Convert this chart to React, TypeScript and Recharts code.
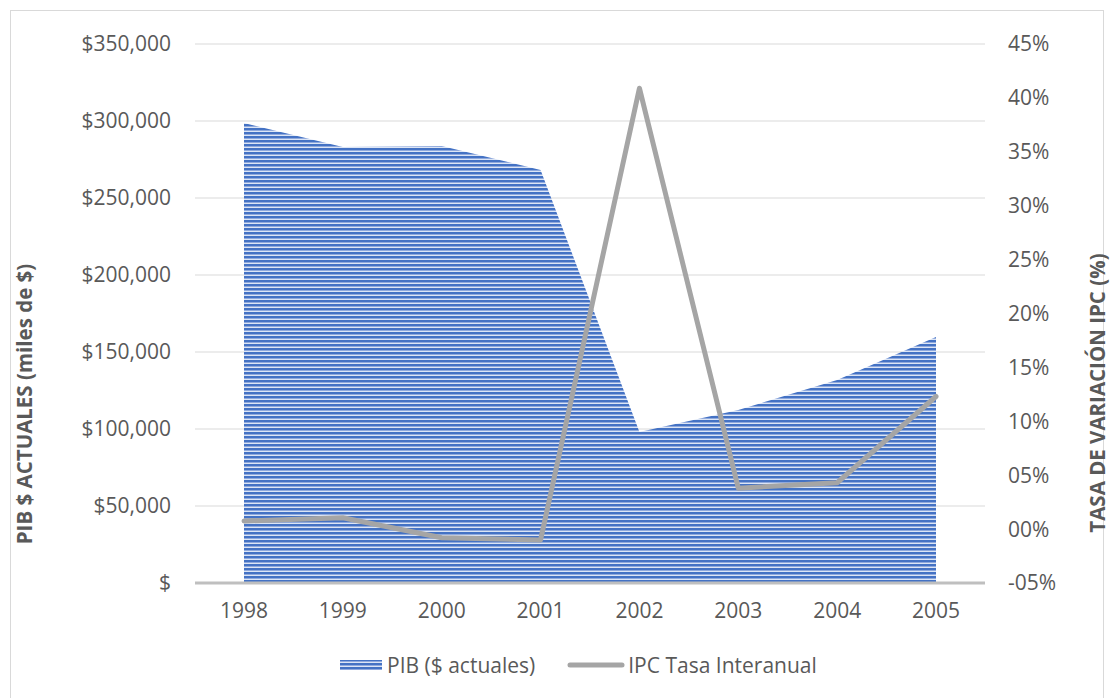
import {
  ComposedChart,
  Area,
  Line,
  XAxis,
  YAxis,
  CartesianGrid,
  Label,
} from "recharts";

const YEARS = ["1998", "1999", "2000", "2001", "2002", "2003", "2004", "2005"];
// PIB en miles de $ corrientes
const PIB = [298700, 283100, 283800, 268200, 98000, 112300, 131800, 159700];
// IPC, tasa interanual en %
const IPC = [0.75, 1.05, -0.8, -1.0, 40.9, 3.8, 4.3, 12.3];

const PIB_TICKS = [0, 50000, 100000, 150000, 200000, 250000, 300000, 350000];
const IPC_TICKS = [-5, 0, 5, 10, 15, 20, 25, 30, 35, 40, 45];

const FONT = "'Open Sans', 'Noto Sans', sans-serif";
const TEXT = "#595959";
const BLUE = "#4472C4";
const GREY = "#A5A5A5";

const data = YEARS.map((year, i) => ({ year, pib: PIB[i], ipc: IPC[i] }));

const fmtMoney = (v: number) => (v === 0 ? "$" : `$${v.toLocaleString("en-US")}`);
const fmtPct = (v: number) =>
  `${v < 0 ? "-" : ""}${String(Math.abs(v)).padStart(2, "0")}%`;

function StripeDefs({ id }: { id: string }) {
  return (
    <defs>
      <pattern id={id} patternUnits="userSpaceOnUse" width={8} height={4}>
        <rect x={0} y={0} width={8} height={4} fill={BLUE} />
        <rect x={0} y={2} width={8} height={1} fill="#8fa9dd" />
        <rect x={0} y={3} width={8} height={1} fill="#dce5f5" />
      </pattern>
    </defs>
  );
}

function AxisTitle({ x, y, text }: { x: number; y: number; text: string }) {
  return (
    <text
      x={x}
      y={y}
      transform={`rotate(-90, ${x}, ${y})`}
      textAnchor="middle"
      dominantBaseline="central"
      fill={TEXT}
      fontFamily={FONT}
      fontSize={20.5}
      fontWeight={700}
    >
      {text}
    </text>
  );
}

export default function App() {
  return (
    <div
      style={{
        position: "absolute",
        left: 0,
        top: 0,
        width: 1114,
        height: 698,
        background: "#fff",
        overflow: "hidden",
        fontFamily: FONT,
      }}
    >
      <div
        style={{
          position: "absolute",
          left: 10,
          top: 10,
          width: 1094,
          height: 700,
          border: "1px solid #d9d9d9",
          boxSizing: "border-box",
        }}
      />
      <div style={{ position: "absolute", left: 0, top: 0 }}>
        <ComposedChart
          width={1114}
          height={698}
          data={data}
          margin={{ top: 44, right: 0, bottom: 75, left: 0 }}
        >
          <StripeDefs id="pibStripes" />
          <CartesianGrid
            yAxisId="pib"
            vertical={false}
            stroke="#d9d9d9"
            strokeWidth={1}
          />
          <XAxis
            dataKey="year"
            scale="point"
            padding={{ left: 49, right: 49 }}
            height={40}
            tickSize={0}
            tickMargin={20}
            axisLine={{ stroke: "#bfbfbf", strokeWidth: 3 }}
            tick={{ fill: TEXT, fontSize: 21, fontFamily: FONT }}
          />
          <YAxis
            yAxisId="pib"
            orientation="left"
            width={195}
            domain={[0, 350000]}
            ticks={PIB_TICKS}
            tickFormatter={fmtMoney}
            tickSize={0}
            tickMargin={24}
            axisLine={false}
            tickLine={false}
            tick={{ fill: TEXT, fontSize: 21, fontFamily: FONT }}
          >
            <Label
              content={() => (
                <AxisTitle x={24} y={404} text="PIB $ ACTUALES (miles de $)" />
              )}
            />
          </YAxis>
          <YAxis
            yAxisId="ipc"
            orientation="right"
            width={129}
            domain={[-5, 45]}
            ticks={IPC_TICKS}
            tickFormatter={fmtPct}
            tickSize={0}
            tickMargin={23}
            axisLine={false}
            tickLine={false}
            tick={{ fill: TEXT, fontSize: 21, fontFamily: FONT, textAnchor: "start" }}
          >
            <Label
              content={() => (
                <AxisTitle x={1097} y={393} text="TASA DE VARIACIÓN IPC (%)" />
              )}
            />
          </YAxis>
          <Area
            yAxisId="pib"
            type="linear"
            dataKey="pib"
            fill="url(#pibStripes)"
            fillOpacity={1}
            stroke="none"
            isAnimationActive={false}
          />
          <Line
            yAxisId="ipc"
            type="linear"
            dataKey="ipc"
            stroke={GREY}
            strokeWidth={5}
            strokeLinecap="round"
            strokeLinejoin="round"
            dot={false}
            activeDot={false}
            isAnimationActive={false}
          />
        </ComposedChart>
      </div>

      {/* leyenda */}
      <div
        style={{
          position: "absolute",
          top: 651,
          left: 340,
          display: "flex",
          alignItems: "center",
          color: TEXT,
          fontSize: 21,
          fontFamily: FONT,
          whiteSpace: "nowrap",
        }}
      >
        <svg width={42} height={12} style={{ marginRight: 5 }}>
          <StripeDefs id="pibStripesLegend" />
          <rect x={0} y={1} width={42} height={10} fill="url(#pibStripesLegend)" />
        </svg>
        <span style={{ marginRight: 32 }}>PIB ($ actuales)</span>
        <svg width={58} height={12} style={{ marginRight: 3 }}>
          <line
            x1={3}
            y1={6}
            x2={55}
            y2={6}
            stroke={GREY}
            strokeWidth={5}
            strokeLinecap="round"
          />
        </svg>
        <span>IPC Tasa Interanual</span>
      </div>
    </div>
  );
}
